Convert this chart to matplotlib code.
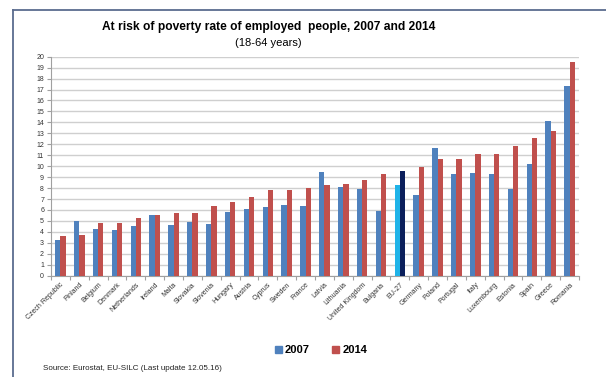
import numpy as np
import matplotlib.pyplot as plt
from matplotlib.lines import Line2D
from matplotlib.patches import Patch

countries = ['Czech Republic', 'Finland', 'Belgium', 'Denmark', 'Netherlands',
             'Ireland', 'Malta', 'Slovakia', 'Slovenia', 'Hungary', 'Austria',
             'Cyprus', 'Sweden', 'France', 'Latvia', 'Lithuania', 'United Kingdom',
             'Bulgaria', 'EU-27', 'Germany', 'Poland', 'Portugal', 'Italy',
             'Luxembourg', 'Estonia', 'Spain', 'Greece', 'Romania']
rate_2007 = [3.3, 5.0, 4.3, 4.2, 4.5, 5.5, 4.6, 4.9, 4.7, 5.8, 6.1, 6.3, 6.5, 6.4,
             9.5, 8.1, 7.9, 5.9, 8.3, 7.4, 11.7, 9.3, 9.4, 9.3, 7.9, 10.2, 14.1, 17.3]
rate_2014 = [3.6, 3.7, 4.8, 4.8, 5.3, 5.5, 5.7, 5.7, 6.4, 6.7, 7.2, 7.8, 7.8, 8.0,
             8.3, 8.4, 8.7, 9.3, 9.6, 9.9, 10.7, 10.7, 11.1, 11.1, 11.8, 12.6, 13.2, 19.5]
yticks = list(range(0, 21))

plt.rcParams['font.family'] = ['Liberation Sans', 'DejaVu Sans']

blue = '#4F81BD'
red = '#C0504D'
eu_light = '#1FB3E8'
eu_dark = '#0B1F5C'

fig = plt.figure(figsize=(6.06, 3.77), dpi=100)
ax = fig.add_axes([51 / 606, 1 - 275.7 / 377, 528 / 606, (275.7 - 56.7) / 377])

x = np.arange(len(countries))
w = 0.28
c07 = [eu_light if c == 'EU-27' else blue for c in countries]
c14 = [eu_dark if c == 'EU-27' else red for c in countries]
ax.bar(x - w / 2, rate_2007, w, color=c07, zorder=3)
ax.bar(x + w / 2, rate_2014, w, color=c14, zorder=3)

ax.set_xlim(-0.5, len(countries) - 0.5)
ax.set_ylim(0, 20)
ax.set_yticks(yticks)
ax.set_yticklabels([str(t) for t in yticks], fontsize=5, color='#333333')
ax.yaxis.grid(True, color='#CFCFCF', linewidth=1.0, zorder=0)

# category boundary ticks on x axis, labels at centres
ax.set_xticks(np.arange(-0.5, len(countries), 1.0))
ax.set_xticklabels([])
ax.set_xticks(x, minor=True)
ax.set_xticklabels(countries, minor=True, rotation=45, ha='right',
                   rotation_mode='anchor', fontsize=5, color='#333333')
ax.tick_params(axis='x', which='major', length=3, color='#A0A0A0')
ax.tick_params(axis='x', which='minor', length=0, pad=4)
ax.tick_params(axis='y', length=3, color='#A0A0A0', pad=2)

for s in ['top', 'right']:
    ax.spines[s].set_visible(False)
for s in ['left', 'bottom']:
    ax.spines[s].set_color('#A0A0A0')
    ax.spines[s].set_linewidth(0.8)

fig.text(269 / 606, 1 - 27 / 377, 'At risk of poverty rate of employed  people, 2007 and 2014',
         ha='center', va='center', fontsize=8.65, fontweight='bold')
fig.text(268 / 606, 1 - 43 / 377, '(18-64 years)', ha='center', va='center', fontsize=8)

handles = [Patch(color=blue), Patch(color=red)]
fig.legend(handles, ['2007', '2014'], loc='center', bbox_to_anchor=(321 / 606, 1 - 350 / 377),
           ncol=2, frameon=False, handlelength=0.6, handleheight=0.6, handletextpad=0.3,
           columnspacing=2.0, prop={'weight': 'bold', 'size': 8})

fig.text(43 / 606, 1 - 368 / 377, 'Source: Eurostat, EU-SILC (Last update 12.05.16)',
         ha='left', va='center', fontsize=5.8, color='#222222')

# outer frame lines
frame = '#5B6C8F'
fig.add_artist(Line2D([13 / 606, 1.0], [1 - 10 / 377, 1 - 10 / 377], color=frame, linewidth=1.3))
fig.add_artist(Line2D([13 / 606, 13 / 606], [0, 1 - 10 / 377], color=frame, linewidth=1.3))

fig.savefig('out.png', dpi=100)
